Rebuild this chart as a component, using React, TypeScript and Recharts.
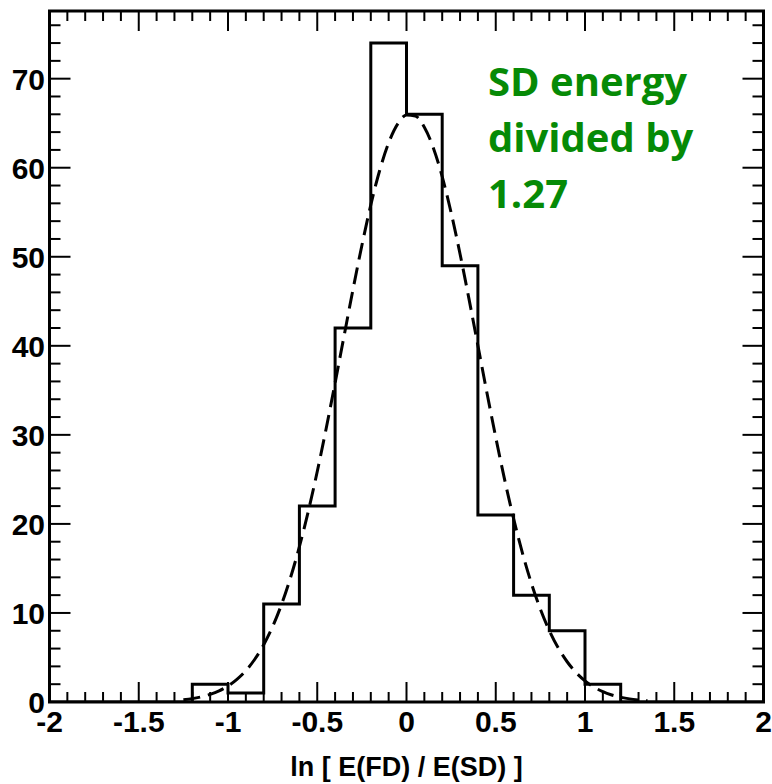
import React from 'react';
import { ComposedChart, Line, XAxis, YAxis, ReferenceArea } from 'recharts';

// Histogram: low edges of 0.2-wide bins and their counts
const binLowEdges = [-2.0, -1.8, -1.6, -1.4, -1.2, -1.0, -0.8, -0.6, -0.4, -0.2, 0.0, 0.2, 0.4, 0.6, 0.8, 1.0, 1.2, 1.4, 1.6, 1.8];
const binCounts = [0, 0, 0, 0, 2, 1, 11, 22, 42, 74, 66, 49, 21, 12, 8, 2, 0, 0, 0, 0];
const histUpperEdge = 2.0;

// Dashed fit curve
const fitX = [-1.25, -1.2, -1.15, -1.1, -1.05, -1.0, -0.95, -0.9, -0.85, -0.8, -0.75, -0.7, -0.65, -0.6, -0.55, -0.5, -0.45, -0.4, -0.35, -0.3, -0.25, -0.2, -0.15, -0.1, -0.05, 0.0, 0.05, 0.1, 0.15, 0.2, 0.25, 0.3, 0.35, 0.4, 0.45, 0.5, 0.55, 0.6, 0.65, 0.7, 0.75, 0.8, 0.85, 0.9, 0.95, 1.0, 1.05, 1.1, 1.15, 1.2, 1.25, 1.3, 1.35];
const fitY = [0.25, 0.38, 0.58, 0.86, 1.25, 1.8, 2.54, 3.52, 4.8, 6.43, 8.47, 10.96, 13.95, 17.44, 21.43, 25.88, 30.72, 35.83, 41.08, 46.3, 51.27, 55.82, 59.72, 62.79, 64.89, 65.91, 65.79, 64.55, 62.25, 59.0, 54.95, 50.31, 45.27, 40.03, 34.79, 29.72, 24.95, 20.59, 16.7, 13.31, 10.43, 8.03, 6.07, 4.52, 3.3, 2.37, 1.68, 1.16, 0.79, 0.53, 0.35, 0.23, 0.14];

// Axis ticks
const xDomain = [-2, 2];
const yDomain = [0, 77.6];
const xMajorTicks = [-2, -1.5, -1, -0.5, 0, 0.5, 1, 1.5, 2];
const yMajorTicks = [0, 10, 20, 30, 40, 50, 60, 70];
const xAllTicks = Array.from({ length: 41 }, (_, i) => Math.round((-2 + i * 0.1) * 10) / 10);
const yAllTicks = Array.from({ length: 39 }, (_, i) => i * 2);

const xTitle = 'ln [ E(FD) / E(SD) ]';
const annotation = ['SD energy', 'divided by', '1.27'];

const histData = binLowEdges
  .map((x, i) => ({ x, count: binCounts[i] }))
  .concat([{ x: histUpperEdge, count: 0 }]);
const fitData = fitX.map((x, i) => ({ x, fit: fitY[i] }));

const FONT = "'Liberation Sans', Arial, Helvetica, sans-serif";
const isMajorX = (v: number) => xMajorTicks.some((m) => Math.abs(m - v) < 1e-6);
const isMajorY = (v: number) => yMajorTicks.some((m) => Math.abs(m - v) < 1e-6);

const BottomTick = (props: any) => {
  const { x, y, payload } = props;
  const v = payload.value;
  const major = isMajorX(v);
  return (
    <g>
      <line x1={x} y1={y} x2={x} y2={y - (major ? 20 : 10)} stroke="#000" strokeWidth={2} />
      {major && (
        <text x={x} y={y + 30} textAnchor="middle" fontFamily={FONT} fontWeight="bold" fontSize={30} fill="#000">
          {String(v)}
        </text>
      )}
    </g>
  );
};

const TopTick = (props: any) => {
  const { x, y, payload } = props;
  const major = isMajorX(payload.value);
  return <line x1={x} y1={y} x2={x} y2={y + (major ? 20 : 10)} stroke="#000" strokeWidth={2} />;
};

const LeftTick = (props: any) => {
  const { x, y, payload } = props;
  const v = payload.value;
  const major = isMajorY(v);
  return (
    <g>
      <line x1={x} y1={y} x2={x + (major ? 21 : 11)} y2={y} stroke="#000" strokeWidth={2} />
      {major && (
        <text x={x - 4.5} y={y + 11} textAnchor="end" fontFamily={FONT} fontWeight="bold" fontSize={30} fill="#000">
          {String(v)}
        </text>
      )}
    </g>
  );
};

const RightTick = (props: any) => {
  const { x, y, payload } = props;
  const major = isMajorY(payload.value);
  return <line x1={x} y1={y} x2={x - (major ? 21 : 11)} y2={y} stroke="#000" strokeWidth={2} />;
};

const XTitle = (props: any) => {
  const vb = props.viewBox || {};
  return (
    <text x={vb.x + vb.width / 2} y={vb.y + 74} textAnchor="middle" fontFamily={FONT} fontWeight="bold" fontSize={27} fill="#000">
      {xTitle}
    </text>
  );
};

export default function App() {
  return (
    <div style={{ position: 'absolute', left: 0, top: 0, width: 772, height: 784, background: '#fff' }}>
      <ComposedChart width={772} height={784} data={histData} margin={{ top: 10, right: 7.5, bottom: 0, left: 0 }}>
        <XAxis
          xAxisId="b"
          dataKey="x"
          type="number"
          domain={xDomain}
          allowDataOverflow
          ticks={xAllTicks}
          interval={0}
          tickSize={0}
          tickMargin={0}
          tickLine={false}
          axisLine={false}
          height={82}
          tick={(p: any) => <BottomTick {...p} />}
          label={{ content: (p: any) => <XTitle {...p} /> }}
        />
        <XAxis
          xAxisId="t"
          orientation="top"
          dataKey="x"
          type="number"
          domain={xDomain}
          allowDataOverflow
          ticks={xAllTicks}
          interval={0}
          tickSize={0}
          tickMargin={0}
          tickLine={false}
          axisLine={false}
          height={1}
          tick={(p: any) => <TopTick {...p} />}
        />
        <YAxis
          yAxisId="l"
          type="number"
          domain={yDomain}
          allowDataOverflow
          ticks={yAllTicks}
          interval={0}
          tickSize={0}
          tickMargin={0}
          tickLine={false}
          axisLine={false}
          width={49.5}
          tick={(p: any) => <LeftTick {...p} />}
        />
        <YAxis
          yAxisId="r"
          orientation="right"
          type="number"
          domain={yDomain}
          allowDataOverflow
          ticks={yAllTicks}
          interval={0}
          tickSize={0}
          tickMargin={0}
          tickLine={false}
          axisLine={false}
          width={1}
          tick={(p: any) => <RightTick {...p} />}
        />
        <Line
          xAxisId="b"
          yAxisId="l"
          type="stepAfter"
          dataKey="count"
          stroke="#000"
          strokeWidth={3}
          dot={false}
          activeDot={false}
          isAnimationActive={false}
        />
        <Line
          xAxisId="b"
          yAxisId="l"
          data={fitData}
          type="monotone"
          dataKey="fit"
          stroke="#000"
          strokeWidth={3}
          strokeDasharray="17 8"
          dot={false}
          activeDot={false}
          isAnimationActive={false}
        />
        <ReferenceArea
          xAxisId="b"
          yAxisId="l"
          x1={xDomain[0]}
          x2={xDomain[1]}
          y1={yDomain[0]}
          y2={yDomain[1]}
          fill="none"
          fillOpacity={0}
          stroke="#000"
          strokeWidth={3}
          ifOverflow="visible"
        />
      </ComposedChart>
      <svg width={772} height={784} style={{ position: 'absolute', left: 0, top: 0, pointerEvents: 'none' }}>
        {annotation.map((t, i) => (
          <text key={t} x={488} y={96 + i * 56} fontFamily="'Open Sans', 'Noto Sans', sans-serif" fontWeight="bold" fontSize={40} fill="#068a06">
            {t}
          </text>
        ))}
      </svg>
    </div>
  );
}
